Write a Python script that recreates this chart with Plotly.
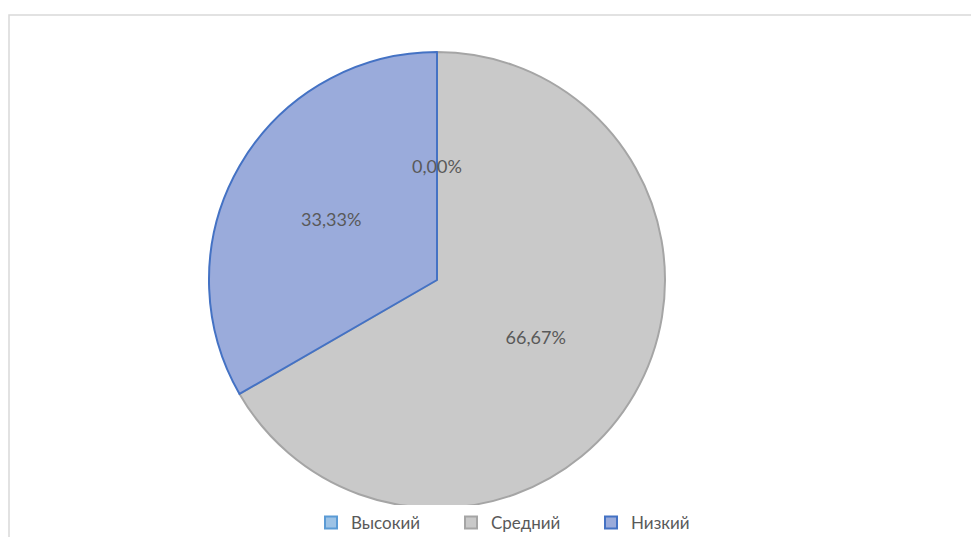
import math
import plotly.graph_objects as go

categories = ["Высокий", "Средний", "Низкий"]
values = [0, 66.67, 33.33]
fill_colors = ["#9dc3e6", "#c9c9c9", "#9aabdb"]
line_colors = ["#5b9bd5", "#a5a5a5", "#4472c4"]

# page has an 8px body margin, so figure coords = page coords - 8
W, H = 971, 529
OFF = 8
cx, cy, r = 437 - OFF, 280 - OFF, 228

FONT = "Lato, Carlito, sans-serif"

fig = go.Figure(go.Pie(
    labels=categories,
    values=values,
    sort=False,
    direction="clockwise",
    rotation=0,
    marker=dict(colors=fill_colors, line=dict(color=line_colors, width=2)),
    texttemplate="%{percent:.2%}",
    textposition="inside",
    insidetextorientation="horizontal",
    textfont=dict(family=FONT, size=18, color="#595959"),
    hoverinfo="label+percent",
    domain=dict(x=[(cx - r) / W, (cx + r) / W], y=[1 - (cy + r) / H, 1 - (cy - r) / H]),
))

# zero-sized slices get no text from plotly: label them at their mid-angle
total = sum(values)
annotations = []
cum = 0.0
for cat, v in zip(categories, values):
    if v == 0:
        ang = 2 * math.pi * (cum + v / 2) / total
        px = cx + 0.5 * r * math.sin(ang)
        py = cy - 0.5 * r * math.cos(ang)
        annotations.append(dict(
            xref="paper", yref="paper", x=px / W, y=1 - py / H,
            xanchor="center", yanchor="middle",
            text=f"{v / total * 100:.2f}%".replace(".", ","), showarrow=False,
            font=dict(family=FONT, size=18, color="#595959"),
        ))
    cum += v

fig.update_layout(
    width=W, height=H,
    margin=dict(l=0, r=0, t=0, b=0, autoexpand=False),
    paper_bgcolor="white",
    separators=", ",
    showlegend=True,
    annotations=annotations,
    legend=dict(
        orientation="h",
        x=(521 - OFF) / W, xanchor="center",
        y=1 - (523 - OFF) / H, yanchor="middle",
        font=dict(family=FONT, size=17, color="#595959"),
        entrywidth=95, entrywidthmode="pixels",
        itemwidth=30,
        traceorder="normal",
    ),
    shapes=[dict(
        type="rect", xref="paper", yref="paper",
        x0=(9 - OFF) / W, x1=1.02, y0=-0.02, y1=1 - (15 - OFF) / H,
        line=dict(color="#d9d9d9", width=1.5), fillcolor="rgba(0,0,0,0)", layer="below",
    )],
)

fig.write_html("out.html")
